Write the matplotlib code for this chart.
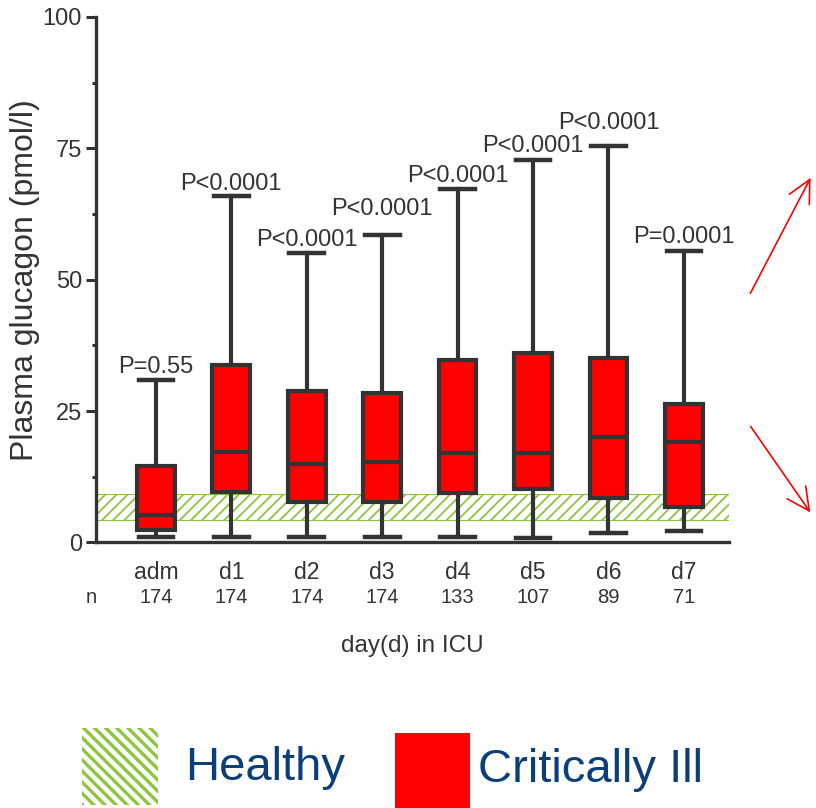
import matplotlib
matplotlib.use("Agg")
import matplotlib.pyplot as plt
from matplotlib.patches import Rectangle, FancyArrowPatch

plt.rcParams["font.family"] = ["Liberation Sans", "DejaVu Sans"]

# Plasma glucagon per ICU day (pmol/l)
days = ["adm", "d1", "d2", "d3", "d4", "d5", "d6", "d7"]
n_patients = [174, 174, 174, 174, 133, 107, 89, 71]
whisker_low = [1.0, 1.0, 1.0, 1.0, 1.1, 0.9, 1.8, 2.2]
q1 = [2.3, 9.7, 7.8, 7.8, 9.5, 10.1, 8.4, 6.7]
median = [5.3, 17.3, 14.9, 15.4, 17.1, 17.0, 20.1, 19.2]
q3 = [14.5, 33.8, 28.9, 28.4, 34.7, 36.0, 35.2, 26.4]
whisker_high = [31.0, 65.9, 55.1, 58.5, 67.2, 72.8, 75.5, 55.5]
p_values = ["P=0.55", "P<0.0001", "P<0.0001", "P<0.0001",
            "P<0.0001", "P<0.0001", "P<0.0001", "P=0.0001"]
p_gap = [0.3, 0.3, 0.4, 2.8, 0.5, 0.6, 2.2, 0.45]

# reference range of healthy controls
healthy_low = 4.2
healthy_high = 9.3

dark = "#333333"
green = "#8cc63f"
navy = "#0b3f7a"


def hatch_width(patch, lw):
    # per-patch hatch line width where supported
    if hasattr(patch, "set_hatch_linewidth"):
        patch.set_hatch_linewidth(lw)
    else:
        plt.rcParams["hatch.linewidth"] = lw


fig = plt.figure(figsize=(8.16, 8.08), dpi=100)
ax = fig.add_axes([0.1176, 0.3286, 0.7757, 0.6504])

# healthy band
band = Rectangle((-0.8, healthy_low), 8.4, healthy_high - healthy_low,
                 facecolor="white", edgecolor=green, hatch="///",
                 linewidth=0.8, zorder=1)
hatch_width(band, 1.3)
ax.add_patch(band)

stats = []
for i in range(len(days)):
    stats.append({
        "whislo": whisker_low[i], "q1": q1[i], "med": median[i],
        "q3": q3[i], "whishi": whisker_high[i], "fliers": [],
    })

positions = list(range(len(days)))
ax.bxp(stats, positions=positions, widths=0.5, capwidths=0.46,
       patch_artist=True, showfliers=False,
       boxprops=dict(facecolor="#ff0000", edgecolor=dark, linewidth=3),
       medianprops=dict(color=dark, linewidth=3),
       whiskerprops=dict(color=dark, linewidth=3),
       capprops=dict(color=dark, linewidth=3.2),
       zorder=3)

# P values above the upper whiskers
for i, label in enumerate(p_values):
    ax.text(positions[i], whisker_high[i] + p_gap[i], label, ha="center",
            va="bottom", fontsize=17, color=dark)

ax.set_xlim(-0.795, 7.597)
ax.set_ylim(0, 100)
ax.set_yticks([0, 25, 50, 75, 100])
ax.set_yticks([12.5, 37.5, 62.5, 87.5], minor=True)
ax.set_xticks(positions)
ax.set_xticklabels(days, fontsize=16.5, color=dark)
ax.tick_params(axis="x", length=0, pad=13)
ax.tick_params(axis="y", which="major", length=7, width=2.2, color=dark,
               labelsize=17, labelcolor=dark, pad=3)
ax.tick_params(axis="y", which="minor", length=3, width=2.2, color=dark)

for side in ["top", "right"]:
    ax.spines[side].set_visible(False)
for side in ["left", "bottom"]:
    ax.spines[side].set_linewidth(2.4)
    ax.spines[side].set_color(dark)

# number of patients per day
ax.text(-0.008, -0.104, "n", transform=ax.transAxes, ha="center",
        va="center", fontsize=14.5, color=dark)
for i, n in enumerate(n_patients):
    ax.text(positions[i], -0.104, str(n), transform=ax.get_xaxis_transform(),
            ha="center", va="center", fontsize=14.5, color=dark)

ax.set_xlabel("day(d) in ICU", fontsize=17.5, color=dark)
ax.xaxis.set_label_coords(0.5, -0.176)
ax.set_ylabel("Plasma glucagon (pmol/l)", fontsize=23, color=dark)
ax.yaxis.set_label_coords(-0.0885, 0.4995)

# red arrows on the right
for start, end in [((0.918, 0.634), (0.995, 0.783)),
                   ((0.918, 0.475), (0.995, 0.363))]:
    fig.add_artist(FancyArrowPatch(start, end, transform=fig.transFigure,
                                   arrowstyle="->,head_length=0.9,head_width=0.45",
                                   mutation_scale=18, color="#ff0000",
                                   linewidth=1.2))

# legend
healthy_key = Rectangle((0.1005, 0.0037), 0.093, 0.0953,
                        transform=fig.transFigure, facecolor="white",
                        edgecolor=green, hatch="\\\\\\", linewidth=0)
hatch_width(healthy_key, 2.4)
fig.add_artist(healthy_key)
fig.text(0.2267, 0.0495, "Healthy", fontsize=34, color=navy, va="center")
ill_key = Rectangle((0.484, 0.0), 0.092, 0.0928, transform=fig.transFigure,
                    facecolor="#ff0000", edgecolor="none")
fig.add_artist(ill_key)
fig.text(0.586, 0.047, "Critically Ill", fontsize=34, color=navy, va="center")

fig.savefig("out.png", dpi=100)
plt.close(fig)
